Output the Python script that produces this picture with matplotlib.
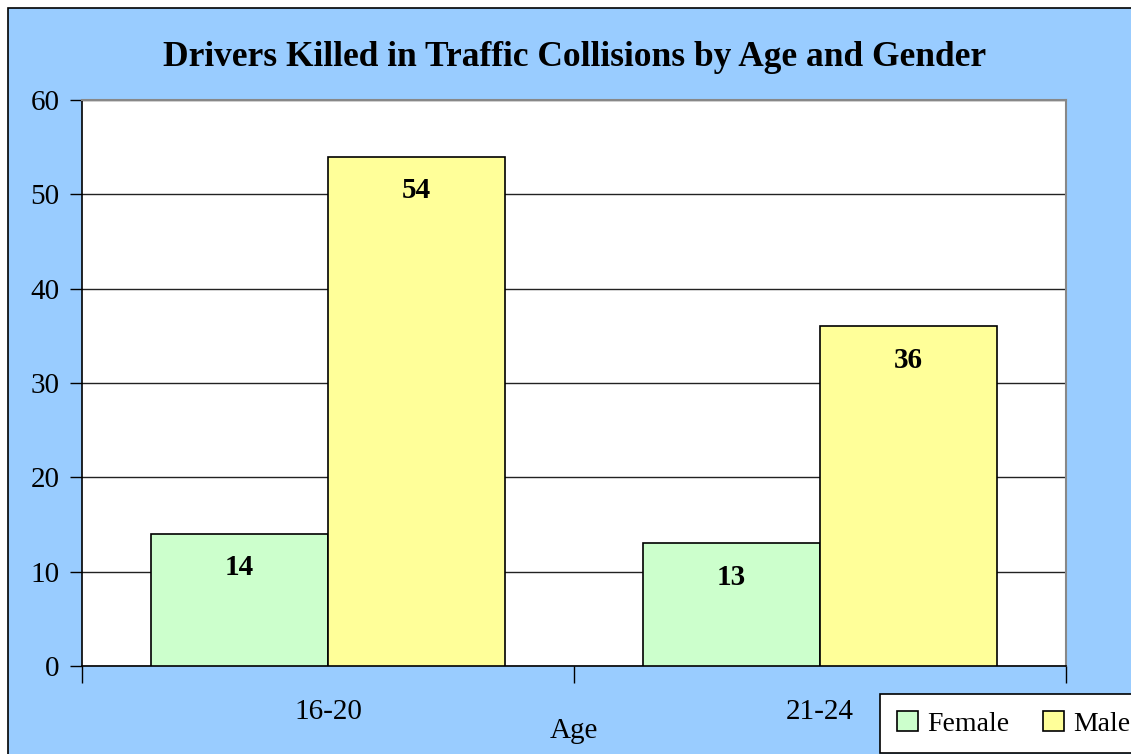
import numpy as np
import matplotlib.pyplot as plt
from matplotlib.patches import Rectangle

plt.rcParams['font.family'] = ['Liberation Serif', 'DejaVu Serif']

# 数据
ages = ['16-20', '21-24']
female = [14, 13]
male = [54, 36]
yticks = [0, 10, 20, 30, 40, 50, 60]

W, H = 1131, 754
fig = plt.figure(figsize=(W / 100, H / 100), dpi=100)
fig.patch.set_facecolor('white')

# 蓝色背景（右、下被裁掉）
bg = Rectangle((8 / W, -0.1), 1.2, 1 - 8 / H + 0.1, transform=fig.transFigure,
               facecolor='#99CCFF', edgecolor='black', linewidth=1.2, zorder=-10)
fig.patches.append(bg)

ax = fig.add_axes([82 / W, 1 - 666 / H, (1066 - 82) / W, (666 - 100) / H])
ax.set_facecolor('white')

x = np.arange(len(ages))
bw = 0.36
b1 = ax.bar(x - bw / 2, female, bw, color='#CCFFCC', edgecolor='black', linewidth=1.2, label='Female', zorder=3)
b2 = ax.bar(x + bw / 2, male, bw, color='#FFFF99', edgecolor='black', linewidth=1.2, label='Male', zorder=3)

for bars in (b1, b2):
    for b in bars:
        ax.annotate(str(int(b.get_height())), (b.get_x() + b.get_width() / 2, b.get_height()),
                    xytext=(0, -34), textcoords='offset pixels', ha='center', va='center',
                    fontsize=21, fontweight='bold', zorder=4)

ax.set_xlim(-0.5, 1.5)
ax.set_ylim(0, 60)
ax.set_yticks(yticks)
ax.tick_params(axis='y', labelsize=21, direction='out', length=9, width=1, pad=7)
ax.set_xticks([-0.5, 0.5, 1.5])
ax.set_xticklabels([])
ax.set_xticks(x, minor=True)
ax.set_xticklabels(ages, minor=True)
ax.tick_params(axis='x', which='major', direction='out', length=12, width=1)
ax.tick_params(axis='x', which='minor', length=0, labelsize=21, pad=24)
ax.yaxis.grid(True, color='#222222', linewidth=1, zorder=0)
ax.set_axisbelow(True)
for s in ('top', 'right'):
    ax.spines[s].set_color('#888888')
    ax.spines[s].set_linewidth(1.5)
for s in ('left', 'bottom'):
    ax.spines[s].set_color('black')
    ax.spines[s].set_linewidth(1.2)

fig.text(574 / W, 1 - 731 / H, 'Age', ha='center', va='center', fontsize=21)
fig.text(575 / W, 1 - 58 / H, 'Drivers Killed in Traffic Collisions by Age and Gender',
         ha='center', va='center', fontsize=25.5, fontweight='bold')

leg = fig.legend(loc='upper left', bbox_to_anchor=(880 / W, 1 - 694 / H), ncol=2, fontsize=20,
                 frameon=True, fancybox=False, edgecolor='black', framealpha=1,
                 handlelength=0.75, handleheight=0.75, handletextpad=0.35, columnspacing=1.2,
                 borderpad=0.6, borderaxespad=0)
leg.get_frame().set_linewidth(1.2)

fig.savefig('out.png', dpi=100)
